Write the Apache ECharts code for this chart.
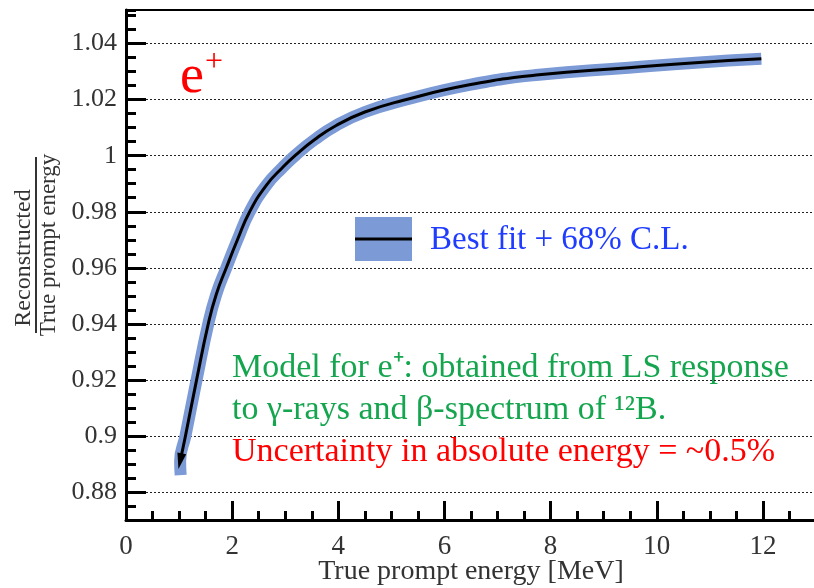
<!DOCTYPE html>
<html>
<head>
<meta charset="utf-8">
<script src="https://cdn.jsdelivr.net/npm/echarts@6/dist/echarts.min.js"></script>
<style>
html, body { margin: 0; padding: 0; background: #fff; }
#main { width: 814px; height: 588px; }
</style>
</head>
<body>
<div id="main"></div>
<script>
// best fit of the e+ energy model
const energy = [1.02, 1.12, 1.33, 1.55, 1.7, 1.89, 2.1, 2.33, 2.65, 2.95, 3.2, 3.55, 3.96, 4.5, 5.21, 6.47, 7.78, 9.47, 10.73, 11.97];
const ratio = [0.891, 0.9, 0.92, 0.94, 0.9505, 0.96, 0.97, 0.98, 0.9896, 0.9958, 1.0003, 1.0057, 1.0108, 1.0156, 1.0197, 1.0253, 1.0289, 1.0314, 1.0332, 1.0346];
// lower tip of the 68% band sticks out below the line
const bandTail = [1.03, 0.886];

const xMajor = [0, 2, 4, 6, 8, 10, 12];
const yMajor = [0.88, 0.9, 0.92, 0.94, 0.96, 0.98, 1, 1.02, 1.04];

const bandColor = "#7b9ad6";
const serif = "Liberation Serif";

const lineData = energy.map((e, i) => [e, ratio[i]]);
const bandData = [bandTail].concat(lineData);
// arrow head at the low end of the curve
lineData[0] = {
  value: lineData[0],
  symbol: "triangle",
  symbolSize: [9, 16],
  symbolRotate: 168,
  itemStyle: { color: "#000" },
};

let chart = echarts.init(document.getElementById("main"), null, { renderer: "canvas" });

// plain text helper for the annotations
const note = (x, y, text, size, color) => ({
  type: "text",
  x: x,
  y: y,
  style: {
    text: text,
    fontSize: size,
    fontFamily: serif,
    fill: color,
    align: "left",
    verticalAlign: "middle",
  },
});

const option = {
  animation: false,
  backgroundColor: "#fff",
  textStyle: { fontFamily: serif },
  grid: {
    left: 126,
    right: -2,
    top: 10,
    bottom: 68,
    show: true,
    borderColor: "#000",
    borderWidth: 2,
    outerBoundsMode: "none",
  },
  xAxis: [
    {
      type: "value",
      min: 0,
      max: 13,
      interval: 2,
      axisLine: { lineStyle: { color: "#000", width: 3 } },
      axisTick: {
        inside: true,
        length: 19,
        lineStyle: { color: "#000", width: 3 },
        customValues: xMajor,
      },
      axisLabel: {
        customValues: xMajor,
        color: "#333",
        fontFamily: serif,
        fontSize: 27,
        margin: 13,
      },
      splitLine: { show: false },
      name: "True prompt energy [MeV]",
      nameLocation: "middle",
      nameGap: 38,
      nameMoveOverlap: false,
      nameTextStyle: { color: "#333", fontFamily: serif, fontSize: 28 },
    },
    {
      // minor ticks every 0.5
      type: "value",
      min: 0,
      max: 13,
      interval: 0.5,
      position: "bottom",
      axisLine: { show: false },
      axisTick: { inside: true, length: 9, lineStyle: { color: "#000", width: 3 } },
      axisLabel: { show: false },
      splitLine: { show: false },
    },
  ],
  yAxis: [
    {
      type: "value",
      min: 0.87,
      max: 1.052,
      axisLine: { show: true, lineStyle: { color: "#000", width: 3 } },
      axisTick: {
        show: true,
        inside: true,
        length: 20,
        lineStyle: { color: "#000", width: 3 },
        customValues: yMajor,
      },
      axisLabel: {
        customValues: yMajor,
        color: "#333",
        fontFamily: serif,
        fontSize: 26,
        margin: 9,
      },
      splitLine: {
        show: true,
        lineStyle: { color: "#222", type: [2, 2], width: 1 },
      },
    },
    {
      // minor ticks every 0.005
      type: "value",
      min: 0.87,
      max: 1.052,
      interval: 0.005,
      position: "left",
      axisLine: { show: false },
      axisTick: { show: true, inside: true, length: 10, lineStyle: { color: "#000", width: 3 } },
      axisLabel: { show: false },
      splitLine: { show: false },
    },
  ],
  series: [
    {
      name: "68% C.L.",
      type: "line",
      data: bandData,
      smooth: 0.5,
      symbol: "none",
      lineStyle: { color: bandColor, width: 12, cap: "butt" },
      z: 2,
    },
    {
      name: "Best fit",
      type: "line",
      data: lineData,
      smooth: 0.5,
      symbol: "none",
      showSymbol: true,
      lineStyle: { color: "#000", width: 3 },
      z: 3,
    },
  ],
  graphic: [
    // y axis title as a fraction
    {
      type: "text",
      x: 24,
      y: 258,
      rotation: Math.PI / 2,
      style: { text: "Reconstructed", fontSize: 24, fontFamily: serif, fill: "#333", align: "center", verticalAlign: "middle" },
    },
    {
      type: "line",
      shape: { x1: 36, y1: 157, x2: 36, y2: 333 },
      style: { stroke: "#333", lineWidth: 2 },
    },
    {
      type: "text",
      x: 49,
      y: 245,
      rotation: Math.PI / 2,
      style: { text: "True prompt energy", fontSize: 23, fontFamily: serif, fill: "#333", align: "center", verticalAlign: "middle" },
    },
    // e+ tag
    note(180, 78, "e", 54, "#ff0000"),
    note(205, 63, "+", 32, "#ff0000"),
    // legend
    {
      type: "rect",
      shape: { x: 355, y: 217, width: 57, height: 44 },
      style: { fill: bandColor },
    },
    {
      type: "line",
      shape: { x1: 355, y1: 239, x2: 412, y2: 239 },
      style: { stroke: "#000", lineWidth: 3 },
    },
    note(430, 240, "Best fit + 68% C.L.", 33, "#1f3cff"),
    // notes
    note(232, 368, "Model for e\u207A: obtained from LS response", 34, "#14a54e"),
    note(232, 410, "to \u03B3-rays and \u03B2-spectrum of \u00B9\u00B2B.", 34, "#14a54e"),
    note(232, 452, "Uncertainty in absolute energy = ~0.5%", 34, "#ff0000"),
  ],
};

chart.setOption(option);
window.onresize = function () {
  chart.resize();
};
</script>
</body>
</html>
